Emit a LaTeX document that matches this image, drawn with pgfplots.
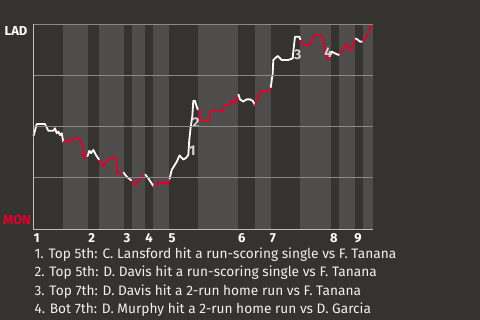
\documentclass[border=0pt]{standalone}
\usepackage{pgfplots}
\pgfplotsset{compat=1.18}
\usepackage{fontspec}
\setmainfont{Fira Sans}
\definecolor{bg}{HTML}{353330}
\definecolor{band}{HTML}{4E4D4B}
\definecolor{gridc}{HTML}{8A8986}
\definecolor{axisc}{HTML}{BDBDBD}
\definecolor{mred}{HTML}{E4002B}
\definecolor{annot}{HTML}{D4D4D4}
\begin{document}
\begin{tikzpicture}
\fill[bg] (0,0) rectangle (480bp,320bp);
\useasboundingbox (0,0) rectangle (480bp,320bp);
\begin{axis}[at={(33bp,90.7bp)}, anchor=south west, scale only axis,
  width=340bp, height=205bp, xmin=33, xmax=373, ymin=-0.005, ymax=1,
  axis on top, axis x line*=bottom, axis y line*=left,
  axis line style={color=axisc, line width=0.9bp, -},
  ytick={0.25,0.5,0.75,1}, yticklabels={}, ymajorgrids,
  grid style={color=gridc, line width=0.8bp},
  major tick length=0pt,
  xtick={36.7,91.7,127,149,172,241.7,273,334,358},
  xticklabels={1,2,3,4,5,6,7,8,9},
  xticklabel style={font=\fontsize{13bp}{14bp}\selectfont\bfseries, text=white, yshift=-0.5bp},
  clip=false]
% half-inning bands (bottom halves)
\addplot[fill=band,draw=none] coordinates {(63,-0.005)(63,1)(88,1)(88,-0.005)} -- cycle;
\addplot[fill=band,draw=none] coordinates {(99,-0.005)(99,1)(124,1)(124,-0.005)} -- cycle;
\addplot[fill=band,draw=none] coordinates {(132,-0.005)(132,1)(145,1)(145,-0.005)} -- cycle;
\addplot[fill=band,draw=none] coordinates {(153,-0.005)(153,1)(169,1)(169,-0.005)} -- cycle;
\addplot[fill=band,draw=none] coordinates {(198,-0.005)(198,1)(238,1)(238,-0.005)} -- cycle;
\addplot[fill=band,draw=none] coordinates {(255,-0.005)(255,1)(271,1)(271,-0.005)} -- cycle;
\addplot[fill=band,draw=none] coordinates {(300,-0.005)(300,1)(331,1)(331,-0.005)} -- cycle;
\addplot[fill=band,draw=none] coordinates {(339,-0.005)(339,1)(355,1)(355,-0.005)} -- cycle;
\addplot[fill=band,draw=none] coordinates {(363,-0.005)(363,1)(373,1)(373,-0.005)} -- cycle;
% win probability line
\pgfplotsset{wp/.style={line width=1.8bp, line join=round, mark=none}}
\addplot[wp, white] coordinates {(33.5,0.452)(36.7,0.511)(45,0.511)(48.3,0.478)(53.3,0.478)(55,0.490)(56.7,0.466)(58.3,0.474)(60,0.457)(61.7,0.466)(63.3,0.422)};
\addplot[wp, mred] coordinates {(63.3,0.422)(66.7,0.429)(69.3,0.420)(73.3,0.441)(78.3,0.441)(80.7,0.425)(82.7,0.408)(84,0.343)(86,0.368)(87.3,0.351)};
\addplot[wp, white] coordinates {(87.3,0.351)(89.3,0.380)(91,0.368)(93.3,0.384)(96,0.359)(99.3,0.335)};
\addplot[wp, mred] coordinates {(99.3,0.335)(102.7,0.302)(106.7,0.331)(111.7,0.343)(116,0.348)(117.3,0.270)(121.7,0.266)(123.3,0.275)};
\addplot[wp, white] coordinates {(123.3,0.275)(126.7,0.253)(131.7,0.233)};
\addplot[wp, mred] coordinates {(131.7,0.233)(135,0.212)(138.3,0.228)(141.7,0.253)(145,0.265)};
\addplot[wp, white] coordinates {(145,0.265)(148.3,0.245)(153.5,0.206)};
\addplot[wp, mred] coordinates {(153.5,0.206)(160,0.228)(162.3,0.217)(165.7,0.225)(167.7,0.217)(169.5,0.240)};
\addplot[wp, white] coordinates {(169.5,0.240)(171.7,0.286)(176.7,0.326)(179.5,0.357)(183.3,0.337)(186,0.345)(188.3,0.359)(189.3,0.433)(190.7,0.498)(192.3,0.547)(193.3,0.625)(195,0.625)(196.7,0.596)(198,0.580)};
\addplot[wp, mred] coordinates {(198,0.580)(199.3,0.572)(200,0.531)(204.3,0.527)(209.3,0.527)(210.7,0.576)(222.7,0.576)(225,0.604)(229,0.604)(231.5,0.624)(233.5,0.626)(236,0.612)(237.5,0.644)(238.3,0.658)};
\addplot[wp, white] coordinates {(238.3,0.658)(240,0.632)(243.3,0.621)(246.7,0.632)(250,0.632)(252.7,0.625)(255,0.604)};
\addplot[wp, mred] coordinates {(255,0.604)(258.3,0.645)(261.7,0.675)(266.7,0.670)(269.3,0.678)(270.7,0.689)};
\addplot[wp, white] coordinates {(270.7,0.689)(272.7,0.760)(273.3,0.825)(277.7,0.845)(281.7,0.825)(288.3,0.825)(292.7,0.833)(293.3,0.866)(295,0.939)(299.3,0.939)(300.5,0.923)};
\addplot[wp, mred] coordinates {(300.5,0.923)(301.7,0.907)(305,0.899)(310,0.899)(313.3,0.939)(316.7,0.948)(320,0.948)(322.7,0.931)(324,0.899)(326,0.841)(328.3,0.828)(330,0.838)(331,0.854)};
\addplot[wp, white] coordinates {(331,0.854)(331.7,0.866)(335,0.858)(338.3,0.850)(339.5,0.854)};
\addplot[wp, mred] coordinates {(339.5,0.854)(341.7,0.866)(344,0.890)(346.7,0.903)(349.3,0.877)(351.7,0.874)(353.3,0.907)(355,0.931)};
\addplot[wp, white] coordinates {(355,0.931)(357.3,0.926)(360,0.915)(362.7,0.915)};
\addplot[wp, mred] coordinates {(362.7,0.915)(366.7,0.939)(370,0.980)(373,1.0)};
% annotations
\node[font=\fontsize{14bp}{15bp}\selectfont\bfseries, text=annot] at (axis cs:192.3,0.380) {1};
\node[font=\fontsize{14bp}{15bp}\selectfont\bfseries, text=annot] at (axis cs:196,0.518) {2};
\node[font=\fontsize{14bp}{15bp}\selectfont\bfseries, text=annot] at (axis cs:297.7,0.850) {3};
\node[font=\fontsize{14bp}{15bp}\selectfont\bfseries, text=annot] at (axis cs:328.3,0.863) {4};
\end{axis}
\node[font=\fontsize{13bp}{14bp}\selectfont\bfseries, text=white] at (16bp,289bp) {LAD};
\node[font=\fontsize{13bp}{14bp}\selectfont\bfseries, text=mred] at (17bp,100bp) {MON};
\begin{scope}[every node/.style={anchor=base west, inner sep=0pt, text=white!94!black, font=\fontsize{13.7bp}{15bp}\selectfont}]
\node at (34.3bp,61bp) {1. Top 5th: C. Lansford hit a run-scoring single vs F. Tanana};
\node at (34.3bp,43bp) {2. Top 5th: D. Davis hit a run-scoring single vs F. Tanana};
\node at (34.3bp,25bp) {3. Top 7th: D. Davis hit a 2-run home run vs F. Tanana};
\node at (34.3bp,7bp) {4. Bot 7th: D. Murphy hit a 2-run home run vs D. Garcia};
\end{scope}
\end{tikzpicture}
\end{document}
